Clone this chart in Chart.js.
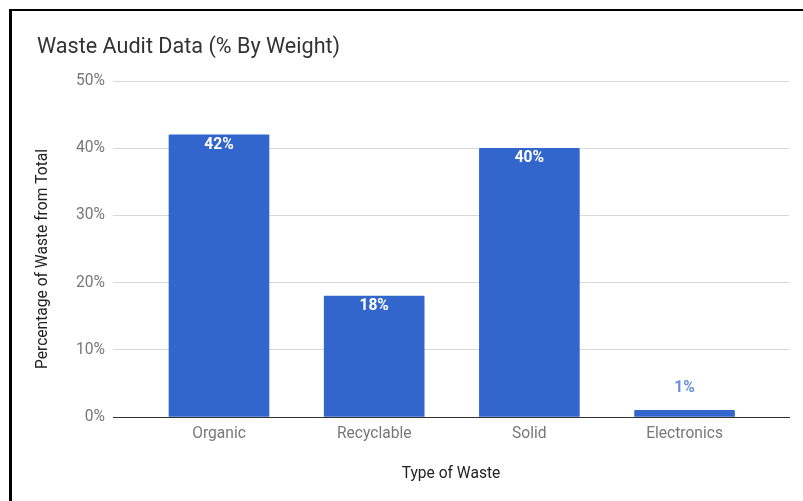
<!DOCTYPE html>
<html>
<head>
<meta charset="utf-8">
<title>Waste Audit Data</title>
<script src="https://cdn.jsdelivr.net/npm/chart.js@4"></script>
<style>
  html, body { margin: 0; padding: 0; background: #fff; }
  #wrap { position: relative; width: 803px; height: 501px; overflow: hidden; }
  #wrap canvas { position: absolute; left: 0; top: 0; }
  #frame {
    position: absolute; left: 9px; top: 9px; right: -4px; bottom: -4px;
    border-left: 3px solid #000; border-top: 2px solid #000;
    pointer-events: none;
  }
</style>
</head>
<body>
<div id="wrap">
  <canvas id="chart" width="803" height="501"></canvas>
  <div id="frame"></div>
</div>
<script>
// Waste categories and their share of total weight (%)
const categories = ['Organic', 'Recyclable', 'Solid', 'Electronics'];
const wasteShare = [42, 18, 40, 1];
const yTickValues = [0, 10, 20, 30, 40, 50];

const FONT = 'Roboto, "Noto Sans", Arial, sans-serif';
const BAR_BLUE = '#3366cc';

// Value labels: white inside tall bars, blue above short ones
const valueLabels = {
  id: 'valueLabels',
  afterDatasetsDraw(chart) {
    const { ctx } = chart;
    const meta = chart.getDatasetMeta(0);
    ctx.save();
    ctx.textAlign = 'center';
    ctx.textBaseline = 'middle';
    ctx.font = 'bold 15.6px ' + FONT;
    meta.data.forEach((bar, i) => {
      const v = chart.data.datasets[0].data[i].y;
      const text = Math.round(v) + '%';
      const h = bar.base - bar.y;
      if (h > 30) {
        ctx.fillStyle = '#ffffff';
        ctx.fillText(text, bar.x, bar.y + 10);
      } else {
        ctx.fillStyle = '#6b8fdb';
        ctx.fillText(text, bar.x, bar.y - 22);
      }
    });
    ctx.restore();
  }
};

// Rotated y-axis title
const yAxisTitle = {
  id: 'yAxisTitle',
  afterDraw(chart) {
    const { ctx } = chart;
    ctx.save();
    ctx.translate(43, 259);
    ctx.rotate(-Math.PI / 2);
    ctx.font = '15.6px ' + FONT;
    ctx.fillStyle = '#222';
    ctx.textAlign = 'center';
    ctx.textBaseline = 'middle';
    ctx.fillText('Percentage of Waste from Total', 0, 0);
    ctx.restore();
  }
};

new Chart(document.getElementById('chart'), {
  type: 'bar',
  data: {
    datasets: [{
      data: categories.map((c, i) => ({ x: i, y: wasteShare[i] })),
      backgroundColor: BAR_BLUE,
      borderWidth: 0,
      borderRadius: 1,
      barThickness: 100
    }]
  },
  options: {
    responsive: false,
    animation: false,
    devicePixelRatio: 1,
    layout: { padding: { left: 37, right: 14, top: 0, bottom: 0 } },
    plugins: {
      legend: { display: false },
      tooltip: { enabled: false },
      title: {
        display: true,
        text: 'Waste Audit Data (% By Weight)',
        align: 'start',
        color: '#333',
        font: { family: FONT, size: 21.6, weight: 'normal' },
        padding: { top: 34.5, bottom: 20.6 }
      }
    },
    scales: {
      x: {
        type: 'linear',
        offset: false,
        min: -0.683,
        max: 3.673,
        afterBuildTicks(scale) {
          scale.ticks = categories.map((c, i) => ({ value: i }));
        },
        afterFit(scale) { scale.height = 84; },
        ticks: {
          callback: (v) => categories[v] ?? '',
          color: '#777',
          font: { family: FONT, size: 15.6 },
          padding: 8,
          autoSkip: false,
          maxRotation: 0
        },
        grid: { display: false, drawTicks: false, offset: false },
        border: { display: true, color: '#333', width: 1 },
        title: {
          display: true,
          text: 'Type of Waste',
          color: '#222',
          font: { family: FONT, size: 15.6 },
          padding: { top: 0, bottom: 17.6 }
        }
      },
      y: {
        min: 0,
        max: 50,
        afterBuildTicks(scale) {
          scale.ticks = yTickValues.map(v => ({ value: v }));
        },
        afterFit(scale) { scale.width = 76; },
        ticks: {
          callback: (v) => v + '%',
          color: '#777',
          font: { family: FONT, size: 15.6 },
          padding: 8
        },
        grid: {
          drawTicks: false,
          color: (c) => (c.tick && c.tick.value === 0 ? '#333' : '#d9d9d9'),
          lineWidth: 1
        },
        border: { display: false }
      }
    }
  },
  plugins: [valueLabels, yAxisTitle]
});
</script>
</body>
</html>
